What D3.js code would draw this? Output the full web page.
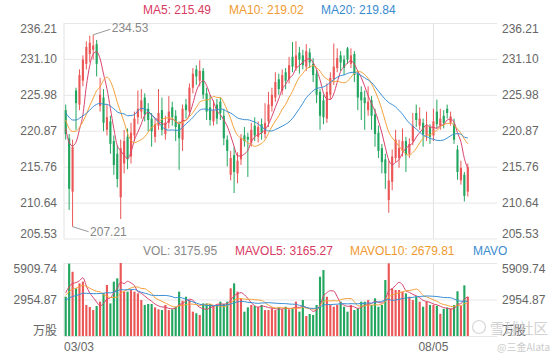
<!DOCTYPE html>
<html><head><meta charset="utf-8">
<script src="https://cdn.jsdelivr.net/npm/d3@7"></script>
<style>
html,body{margin:0;padding:0;background:#fff;}
svg{display:block;}
</style></head><body>
<svg id="chart" width="560" height="360"></svg>
<script>
// ---------- data ----------
const opens = [223.8,219.8,212.2,226.6,224.6,228.0,230.4,231.8,232.4,233.2,
224.4,225.6,221.0,222.2,219.4,217.6,211.4,216.2,220.0,217.2,
220.2,222.8,223.6,225.6,224.0,222.6,220.0,221.6,223.8,220.4,
222.0,224.2,223.0,221.8,219.6,224.6,223.6,227.0,229.6,228.0,
229.4,226.2,224.2,222.2,224.6,225.0,223.0,219.6,214.6,217.4,
214.8,216.8,220.2,220.0,219.2,221.6,220.0,221.8,220.4,222.2,
224.4,225.6,228.2,226.6,229.2,228.2,231.4,229.8,232.0,231.6,
230.0,232.0,230.4,229.0,226.4,225.2,222.6,226.0,228.2,229.8,
231.6,231.0,232.6,230.4,231.8,229.0,226.4,225.6,223.8,225.2,
223.2,220.6,218.4,216.8,211.0,213.6,217.0,217.0,218.0,219.4,
217.6,219.4,223.4,221.6,222.0,220.2,221.4,220.2,223.6,221.6,
223.0,224.0,222.0,221.8,218.2,213.8,214.6,212.2];
const highs = [224.6,220.4,219.6,227.0,229.6,231.6,233.6,234.4,234.53,233.8,
228.4,226.8,224.6,223.0,220.2,218.8,219.6,221.0,221.2,222.0,
223.6,226.6,226.8,226.2,224.8,223.4,222.6,226.8,225.6,223.0,
225.8,225.0,223.8,222.2,224.6,225.4,227.6,229.8,230.2,230.9,
229.8,227.0,226.0,225.2,225.4,225.6,224.0,220.2,218.0,218.6,
217.8,220.4,221.4,220.6,222.0,222.8,222.2,222.6,224.8,226.4,
227.0,229.2,229.0,229.6,229.8,231.4,233.5,233.6,232.8,232.4,
233.2,232.6,231.2,229.6,226.8,226.0,227.6,229.2,233.3,232.6,
232.2,231.6,232.8,232.6,232.2,229.4,227.2,226.6,227.2,225.8,
224.0,221.6,219.0,217.6,216.6,218.2,221.0,219.6,221.2,220.0,
219.8,223.4,224.6,224.2,222.6,223.6,221.8,224.0,225.3,224.0,
223.8,224.6,223.6,222.6,218.8,216.6,215.0,216.2];
const lows = [219.6,209.6,207.21,221.0,223.8,227.2,229.6,230.6,231.0,228.6,
223.6,220.8,220.2,217.6,214.6,212.8,208.3,214.8,215.4,216.2,
219.4,221.8,222.6,222.2,220.8,218.6,219.2,221.0,220.2,219.6,
221.2,221.6,219.4,215.3,218.0,222.6,223.0,226.2,227.4,227.2,
225.4,222.4,221.6,221.6,221.8,222.4,218.8,215.8,213.8,212.0,
213.4,216.0,218.6,214.3,218.6,219.4,219.2,219.6,219.8,221.4,
223.6,225.0,226.0,226.0,226.8,227.6,229.2,229.4,229.0,229.6,
229.4,229.8,227.8,224.8,221.0,221.8,222.0,225.4,227.4,229.2,
229.4,228.8,230.4,229.8,227.8,223.8,222.4,221.0,223.0,221.0,
218.6,217.0,214.8,212.6,209.2,212.4,216.4,215.6,217.2,215.0,
217.0,218.8,221.4,221.0,218.6,219.4,219.0,219.4,221.2,221.0,
221.2,222.6,221.6,219.0,213.9,213.2,210.8,211.5];
const closes = [220.4,212.6,218.6,224.8,228.8,231.0,232.8,233.4,233.0,230.4,
226.0,222.0,222.8,219.0,216.0,214.0,218.4,219.4,216.8,220.6,
222.6,224.0,225.2,223.2,222.4,220.8,221.8,223.4,221.0,222.0,
223.6,222.8,221.4,219.8,224.0,223.8,227.0,229.0,228.6,229.4,
226.0,223.6,222.4,223.8,222.6,223.4,219.8,218.0,217.0,215.0,
216.6,219.8,219.4,219.6,221.0,220.2,221.4,220.6,222.0,224.6,
226.0,227.8,226.8,228.8,228.0,230.2,230.0,231.6,231.0,230.2,
232.2,230.6,228.8,226.0,223.0,222.8,226.4,228.4,230.0,231.2,
230.6,229.8,231.0,231.6,228.8,225.6,225.2,224.8,225.0,223.0,
220.4,218.0,216.4,214.8,213.8,217.2,219.6,218.4,219.4,217.4,
219.0,221.6,222.4,222.6,220.4,221.6,220.0,222.2,221.8,222.6,
222.0,223.4,222.9,219.6,215.0,215.6,211.6,215.7];
const volumes = [3180,5860,5200,3860,4260,4400,2510,2350,2100,2430,
2780,3480,4130,2640,4400,4670,5909.74,3590,3590,3720,
3590,3450,2910,2510,2590,2590,2320,2160,2100,2510,
2100,2160,2370,3590,2860,3180,2910,1970,1840,1700,
2640,2640,2590,2430,2510,2780,2590,2780,3860,4260,
3590,3050,1970,2320,2510,2430,2370,2510,2100,2100,
2240,2100,2320,2160,2370,2160,2240,2780,1970,2910,
1620,1780,1700,2510,4800,5340,3180,2510,2370,2510,
2780,2370,1970,2510,2100,2240,2780,2780,2910,2510,
3050,2370,2510,4530,5880,3860,3720,3720,3590,3450,
3180,2910,3180,2780,2370,2780,2510,2510,2450,1800,
2200,2300,2218,2500,3620,2430,4100,3175.95];
// sessions before 03/03, estimated from where the MA lines start at the left edge
const priorCloses = [225.0,226.2,224.8,223.6,224.4,225.8,224.0,223.2,223.8,223.2,
224.6,223.0,224.2,223.4,222.8,222.6,221.0,222.2,219.8];
const priorVolumes = [2300,2700,2450,2600,2200,2800,2400,2550,2350,2650,
2900,3300,3000,3200,3100,3400,3900,3500,3520];

const priceTicks = [236.21, 231.10, 225.98, 220.87, 215.76, 210.64, 205.53];
const volumeTicks = [5909.74, 2954.87, 0];
const dateTickIndex = [0, 107];
const dateTickLabels = ['03/03', '08/05'];
const maPeriods = [5, 10, 20];
const maLegend = ['MA5: 215.49', 'MA10: 219.02', 'MA20: 219.84'];
const volLegend = ['VOL: 3175.95', 'MAVOL5: 3165.27', 'MAVOL10: 2679.81'];

// ---------- layout & style ----------
const L = 64, R = 497, pTop = 23, pBot = 238.5, vTop = 263, vBot = 336, SLOTS = 126;
const FONT = '"Liberation Sans", Arial, "Noto Sans CJK SC", sans-serif';
const CJK = '"Noto Sans CJK SC", sans-serif';
const UP = '#eb5656', DOWN = '#22a660';
const MA_COLORS = ['#d9446f', '#f5a13a', '#3a8fd6'];
const LEGEND_COLORS = ['#d93a62', '#f09a30', '#3a8ad0'];

const svg = d3.select('#chart');
svg.append('rect').attr('width', 560).attr('height', 360).attr('fill', '#fff');

const n = closes.length;
const idx = d3.range(n);
const x = d3.scaleBand().domain(d3.range(SLOTS)).range([L, R]).paddingInner(0.38).paddingOuter(0.19);
const cx = i => x(i) + x.bandwidth() / 2;
const y = d3.scaleLinear().domain([priceTicks[priceTicks.length - 1], priceTicks[0]]).range([pBot, pTop]);
const yv = d3.scaleLinear().domain([0, volumeTicks[0]]).range([vBot, vTop]);
const isUp = i => closes[i] >= opens[i];
const col = i => isUp(i) ? UP : DOWN;

function movingAvg(prior, vals, k) {
  const all = prior.concat(vals), off = prior.length;
  return vals.map((_, i) => d3.mean(all.slice(off + i - k + 1, off + i + 1)));
}

// ---------- grid ----------
function grid(scale, ticks) {
  const g = svg.append('g').attr('transform', `translate(${L},0)`)
    .call(d3.axisLeft(scale).tickValues(ticks).tickSize(-(R - L)).tickFormat(''));
  g.select('.domain').remove();
  g.selectAll('line').attr('stroke', '#e7e7e7').attr('stroke-width', 1);
}
grid(y, priceTicks);
grid(yv, volumeTicks);
// left border and the 08/05 vertical guide
[[pTop, pBot], [vTop, vBot]].forEach(([a, b]) => {
  svg.append('line').attr('x1', L).attr('x2', L).attr('y1', a).attr('y2', b).attr('stroke', '#e2e2e2');
  svg.append('line').attr('x1', cx(dateTickIndex[1])).attr('x2', cx(dateTickIndex[1]))
    .attr('y1', a).attr('y2', b).attr('stroke', '#e2e2e2');
});

// ---------- axis labels ----------
function labels(scale, ticks, fmt, side) {
  const axis = side === 'left' ? d3.axisLeft(scale) : d3.axisRight(scale);
  const g = svg.append('g').attr('transform', `translate(${side === 'left' ? L : R},0)`)
    .call(axis.tickValues(ticks).tickSize(0).tickPadding(side === 'left' ? 7 : 5).tickFormat(fmt));
  g.select('.domain').remove();
  g.selectAll('text').attr('font-size', 12).attr('fill', '#666')
    .attr('font-family', d => d === 0 ? CJK : FONT)
    .attr('dy', (d, i) => i === 0 ? '0.8em' : i === ticks.length - 1 ? '-0.1em' : '0.32em');
}
const f2 = d3.format('.2f');
const volFmt = d => d === 0 ? '万股' : f2(d);
labels(y, priceTicks, f2, 'left');
labels(y, priceTicks, f2, 'right');
labels(yv, volumeTicks, volFmt, 'left');
labels(yv, volumeTicks, volFmt, 'right');

// date labels
svg.append('g').selectAll('text').data(dateTickIndex).join('text')
  .attr('x', (d, k) => k === 0 ? L : cx(d))
  .attr('y', 351)
  .attr('text-anchor', (d, k) => k === 0 ? 'start' : 'middle')
  .attr('font-family', FONT).attr('font-size', 12).attr('fill', '#666')
  .text((d, k) => dateTickLabels[k]);

// ---------- candles ----------
const gC = svg.append('g');
gC.selectAll('line').data(idx).join('line')
  .attr('x1', cx).attr('x2', cx)
  .attr('y1', i => y(highs[i])).attr('y2', i => y(lows[i]))
  .attr('stroke', col).attr('stroke-width', 1);
gC.selectAll('rect').data(idx).join('rect')
  .attr('x', i => x(i)).attr('width', x.bandwidth())
  .attr('y', i => y(Math.max(opens[i], closes[i])))
  .attr('height', i => Math.max(1, Math.abs(y(opens[i]) - y(closes[i]))))
  .attr('fill', col);

// ---------- volume bars ----------
svg.append('g').selectAll('rect').data(idx).join('rect')
  .attr('x', i => x(i)).attr('width', x.bandwidth())
  .attr('y', i => yv(volumes[i]))
  .attr('height', i => yv(0) - yv(volumes[i]))
  .attr('fill', col);

// ---------- moving averages ----------
const lineGen = sc => d3.line().x((d, i) => cx(i)).y(d => sc(d)).curve(d3.curveMonotoneX);
maPeriods.forEach((k, j) => {
  svg.append('path').attr('d', lineGen(y)(movingAvg(priorCloses, closes, k)))
    .attr('fill', 'none').attr('stroke', MA_COLORS[j]).attr('stroke-width', 1);
});
const volMA = maPeriods.map(k => movingAvg(priorVolumes, volumes, k));
volMA.forEach((vals, j) => {
  svg.append('path').attr('d', lineGen(yv)(vals))
    .attr('fill', 'none').attr('stroke', MA_COLORS[j]).attr('stroke-width', 1);
});

// ---------- legends ----------
const maX = [143, 229, 321];
svg.append('g').selectAll('text').data(maLegend).join('text')
  .attr('x', (d, j) => maX[j]).attr('y', 13.5)
  .attr('font-family', FONT).attr('font-size', 12)
  .attr('fill', (d, j) => LEGEND_COLORS[j]).text(d => d);

svg.append('clipPath').attr('id', 'legclip').append('rect')
  .attr('x', 0).attr('y', 240).attr('width', 507).attr('height', 22);
const volItems = volLegend.concat(['MAVOL20: ' + f2(volMA[2][n - 1])]);
const volX = [143, 235, 350, 473];
const volCol = ['#888', LEGEND_COLORS[0], LEGEND_COLORS[1], LEGEND_COLORS[2]];
svg.append('g').attr('clip-path', 'url(#legclip)').selectAll('text').data(volItems).join('text')
  .attr('x', (d, j) => volX[j]).attr('y', 255)
  .attr('font-family', FONT).attr('font-size', 12)
  .attr('fill', (d, j) => volCol[j]).text(d => d);

// ---------- max / min annotations ----------
const iMax = d3.maxIndex(highs), iMin = d3.minIndex(lows);
const ann = svg.append('g');
ann.append('line').attr('x1', cx(iMax)).attr('y1', y(highs[iMax]))
  .attr('x2', cx(iMax) + 17).attr('y2', y(highs[iMax]) - 5.5).attr('stroke', '#999');
ann.append('text').attr('x', cx(iMax) + 18.5).attr('y', y(highs[iMax]) - 2.5)
  .attr('font-family', FONT).attr('font-size', 12).attr('fill', '#888').text(f2(highs[iMax]));
ann.append('line').attr('x1', cx(iMin)).attr('y1', y(lows[iMin]))
  .attr('x2', cx(iMin) + 16).attr('y2', y(lows[iMin]) + 5).attr('stroke', '#999');
ann.append('text').attr('x', cx(iMin) + 17.5).attr('y', y(lows[iMin]) + 9.3)
  .attr('font-family', FONT).attr('font-size', 12).attr('fill', '#888').text(f2(lows[iMin]));

// ---------- watermark ----------
const wm = svg.append('g').attr('opacity', 0.85);
wm.append('circle').attr('cx', 479).attr('cy', 327).attr('r', 6.5)
  .attr('fill', 'none').attr('stroke', '#cfcfcf').attr('stroke-width', 1.2);
wm.append('text').attr('x', 490).attr('y', 333.5).attr('font-family', CJK).attr('font-size', 14.5)
  .attr('fill', '#c9c9c9').text('雪球社区');
wm.append('text').attr('x', 497).attr('y', 351).attr('font-family', CJK).attr('font-size', 10)
  .attr('fill', '#c4c4c4').text('@三金Alata');
</script>
</body></html>
